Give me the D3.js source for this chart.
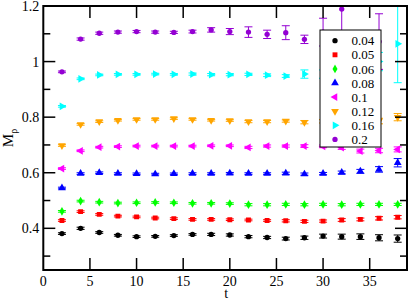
<!DOCTYPE html>
<html>
<head>
<meta charset="utf-8">
<script src="https://d3js.org/d3.v7.min.js"></script>
<style>
  body { margin: 0; background: #fff; }
  text { font-family: "Liberation Serif", "DejaVu Serif", serif; }
</style>
</head>
<body>
<svg id="chart"></svg>
<script>
// time slices
var tValues = [2, 4, 6, 8, 10, 12, 14, 16, 18, 20, 22, 24, 26, 28, 30, 32, 34, 36, 38];

var seriesNames = ["0.04", "0.05", "0.06", "0.08", "0.1", "0.12", "0.16", "0.2"];
var seriesColors = ["#000000", "#ff0000", "#00ff00", "#0000ff", "#ff00ff", "#ffa500", "#00ffff", "#9400d3"];
var seriesShapes = ["circle", "square", "diamond", "up", "left", "down", "right", "circle"];

var m004 = [0.381, 0.400, 0.385, 0.375, 0.370, 0.371, 0.374, 0.378, 0.378, 0.376, 0.370, 0.367, 0.363, 0.366, 0.372, 0.370, 0.370, 0.366, 0.363];
var e004 = [0.003, 0.004, 0.003, 0.003, 0.003, 0.003, 0.003, 0.003, 0.004, 0.004, 0.004, 0.004, 0.005, 0.006, 0.007, 0.009, 0.010, 0.011, 0.013];
var m005 = [0.428, 0.460, 0.450, 0.444, 0.441, 0.437, 0.435, 0.432, 0.432, 0.431, 0.430, 0.428, 0.427, 0.425, 0.426, 0.430, 0.432, 0.436, 0.440];
var e005 = [0.003, 0.003, 0.003, 0.003, 0.003, 0.003, 0.003, 0.003, 0.003, 0.003, 0.003, 0.003, 0.004, 0.004, 0.004, 0.005, 0.005, 0.006, 0.006];
var m006 = [0.461, 0.498, 0.494, 0.491, 0.492, 0.493, 0.492, 0.490, 0.490, 0.489, 0.485, 0.485, 0.486, 0.485, 0.486, 0.485, 0.486, 0.486, 0.486];
var e006 = [0.003, 0.003, 0.003, 0.003, 0.003, 0.003, 0.003, 0.003, 0.003, 0.003, 0.004, 0.004, 0.004, 0.004, 0.004, 0.004, 0.004, 0.004, 0.004];
var m008 = [0.545, 0.597, 0.600, 0.597, 0.596, 0.595, 0.596, 0.597, 0.597, 0.598, 0.597, 0.597, 0.598, 0.595, 0.597, 0.601, 0.605, 0.612, 0.636];
var e008 = [0.003, 0.003, 0.003, 0.003, 0.003, 0.003, 0.003, 0.003, 0.003, 0.003, 0.003, 0.003, 0.004, 0.004, 0.004, 0.005, 0.007, 0.010, 0.015];
var m010 = [0.615, 0.679, 0.692, 0.694, 0.696, 0.696, 0.696, 0.696, 0.697, 0.697, 0.691, 0.696, 0.696, 0.696, 0.695, 0.690, 0.678, 0.680, 0.684];
var e010 = [0.003, 0.003, 0.003, 0.003, 0.003, 0.003, 0.003, 0.003, 0.003, 0.003, 0.004, 0.004, 0.004, 0.005, 0.005, 0.006, 0.007, 0.008, 0.009];
var m012 = [0.698, 0.774, 0.784, 0.789, 0.792, 0.792, 0.795, 0.792, 0.789, 0.788, 0.784, 0.784, 0.786, 0.782, 0.785, 0.785, 0.786, 0.786, 0.800];
var e012 = [0.003, 0.003, 0.003, 0.003, 0.003, 0.003, 0.003, 0.003, 0.003, 0.003, 0.004, 0.004, 0.004, 0.006, 0.006, 0.007, 0.008, 0.010, 0.013];
var m016 = [0.839, 0.938, 0.952, 0.954, 0.954, 0.955, 0.954, 0.955, 0.953, 0.953, 0.954, 0.951, 0.948, 0.955, 0.955, 0.960, 0.970, 1.000, 1.064];
var e016 = [0.003, 0.003, 0.003, 0.003, 0.003, 0.003, 0.003, 0.004, 0.004, 0.004, 0.004, 0.005, 0.005, 0.015, 0.015, 0.020, 0.025, 0.033, 0.140];
var m02 = [0.963, 1.081, 1.102, 1.106, 1.108, 1.106, 1.105, 1.108, 1.114, 1.108, 1.106, 1.098, 1.104, 1.080, 1.106, 1.189, 1.080, 1.072];
var e02 = [0.003, 0.004, 0.004, 0.004, 0.004, 0.004, 0.004, 0.005, 0.008, 0.011, 0.019, 0.015, 0.025, 0.015, 0.050, 0.080, 0.025, 0.100];

var seriesValues = [m004, m005, m006, m008, m010, m012, m016, m02];
var seriesErrors = [e004, e005, e006, e008, e010, e012, e016, e02];

var xTicks = [0, 5, 10, 15, 20, 25, 30, 35];
var yMajor = [0.4, 0.6, 0.8, 1.0, 1.2];
var yMinor = [0.3, 0.5, 0.7, 0.9, 1.1];

var W = 409, H = 299;
var pLeft = 43.3, pTop = 6, pRight = 407, pBottom = 270;

var svg = d3.select("#chart").attr("width", W).attr("height", H);

var x = d3.scaleLinear().domain([0, 39]).range([pLeft, pRight]);
var y = d3.scaleLinear().domain([0.25, 1.2]).range([pBottom, pTop]);

svg.append("defs").append("clipPath").attr("id", "plotclip")
    .append("rect").attr("x", pLeft).attr("y", pTop)
    .attr("width", pRight - pLeft).attr("height", pBottom - pTop);

function symbolPath(shape) {
    if (shape == "circle") return { d: d3.symbol().type(d3.symbolCircle).size(22)(), rot: 0 };
    if (shape == "square") return { d: d3.symbol().type(d3.symbolSquare).size(24)(), rot: 0 };
    if (shape == "diamond") return { d: d3.symbol().type(d3.symbolDiamond).size(22)(), rot: 0 };
    var rot = { up: 0, right: 90, down: 180, left: 270 }[shape];
    return { d: d3.symbol().type(d3.symbolTriangle).size(26)(), rot: rot };
}

// data marks
var plot = svg.append("g").attr("clip-path", "url(#plotclip)");
seriesNames.forEach(function(name, si) {
    var col = seriesColors[si];
    var pts = seriesValues[si].map(function(v, i) {
        return { t: tValues[i], v: v, e: seriesErrors[si][i] };
    });
    var g = plot.append("g");
    var eb = g.selectAll(".eb").data(pts).enter().append("g")
        .attr("stroke", col).attr("stroke-width", 1).attr("fill", "none");
    eb.append("line")
        .attr("x1", function(d) { return x(d.t); }).attr("x2", function(d) { return x(d.t); })
        .attr("y1", function(d) { return y(d.v - d.e); }).attr("y2", function(d) { return y(d.v + d.e); });
    eb.append("line")
        .attr("x1", function(d) { return x(d.t) - 4; }).attr("x2", function(d) { return x(d.t) + 4; })
        .attr("y1", function(d) { return y(d.v + d.e); }).attr("y2", function(d) { return y(d.v + d.e); });
    eb.append("line")
        .attr("x1", function(d) { return x(d.t) - 4; }).attr("x2", function(d) { return x(d.t) + 4; })
        .attr("y1", function(d) { return y(d.v - d.e); }).attr("y2", function(d) { return y(d.v - d.e); });
    var sym = symbolPath(seriesShapes[si]);
    g.selectAll(".pt").data(pts).enter().append("path")
        .attr("d", sym.d)
        .attr("transform", function(d) { return "translate(" + x(d.t) + "," + y(d.v) + ") rotate(" + sym.rot + ")"; })
        .attr("fill", col);
});

// frame and ticks
var axes = svg.append("g").attr("stroke", "#000");
xTicks.forEach(function(t) {
    if (t == 0) return;
    axes.append("line").attr("x1", x(t)).attr("x2", x(t)).attr("y1", pBottom).attr("y2", pBottom - 12).attr("stroke-width", 1.5);
    axes.append("line").attr("x1", x(t)).attr("x2", x(t)).attr("y1", pTop).attr("y2", pTop + 12).attr("stroke-width", 1.5);
});
yMajor.forEach(function(v) {
    axes.append("line").attr("x1", pLeft).attr("x2", pLeft + 12).attr("y1", y(v)).attr("y2", y(v)).attr("stroke-width", 1.5);
    axes.append("line").attr("x1", pRight).attr("x2", pRight - 12).attr("y1", y(v)).attr("y2", y(v)).attr("stroke-width", 1.5);
});
yMinor.forEach(function(v) {
    axes.append("line").attr("x1", pLeft).attr("x2", pLeft + 7).attr("y1", y(v)).attr("y2", y(v)).attr("stroke-width", 1.5);
    axes.append("line").attr("x1", pRight).attr("x2", pRight - 7).attr("y1", y(v)).attr("y2", y(v)).attr("stroke-width", 1.5);
});
axes.append("rect").attr("x", pLeft).attr("y", pTop).attr("width", pRight - pLeft).attr("height", pBottom - pTop)
    .attr("fill", "none").attr("stroke-width", 2);

// tick labels
svg.append("g").selectAll("text").data(xTicks).enter().append("text")
    .attr("x", function(d) { return x(d); }).attr("y", pBottom + 15.5)
    .attr("text-anchor", "middle").attr("font-size", 14).text(function(d) { return d; });
svg.append("g").selectAll("text").data(yMajor).enter().append("text")
    .attr("x", pLeft - 4).attr("y", function(d) { return y(d) + 5; })
    .attr("text-anchor", "end").attr("font-size", 14).text(d3.format("~g"));

// axis titles
svg.append("text").attr("x", (pLeft + pRight) / 2 + 1).attr("y", 297.5)
    .attr("text-anchor", "middle").attr("font-size", 14).text("t");
var yl = svg.append("text").attr("transform", "translate(13,138) rotate(-90)")
    .attr("text-anchor", "middle").attr("font-size", 15);
yl.append("tspan").text("M");
yl.append("tspan").attr("dy", 4).attr("font-size", 10).text("ρ");

// legend
var lx = 320, ly = 30, lw = 61, lh = 117;
var leg = svg.append("g");
leg.append("rect").attr("x", lx).attr("y", ly).attr("width", lw).attr("height", lh)
    .attr("fill", "#fff").attr("stroke", "#000").attr("stroke-width", 1);
seriesNames.forEach(function(name, si) {
    var yy = 40.7 + si * 14.1;
    var sym = symbolPath(seriesShapes[si]);
    leg.append("path").attr("d", sym.d)
        .attr("transform", "translate(335," + yy + ") rotate(" + sym.rot + ")")
        .attr("fill", seriesColors[si]);
    leg.append("text").attr("x", 351.5).attr("y", yy + 4.6).attr("font-size", 13).text(name);
});
</script>
</body>
</html>
